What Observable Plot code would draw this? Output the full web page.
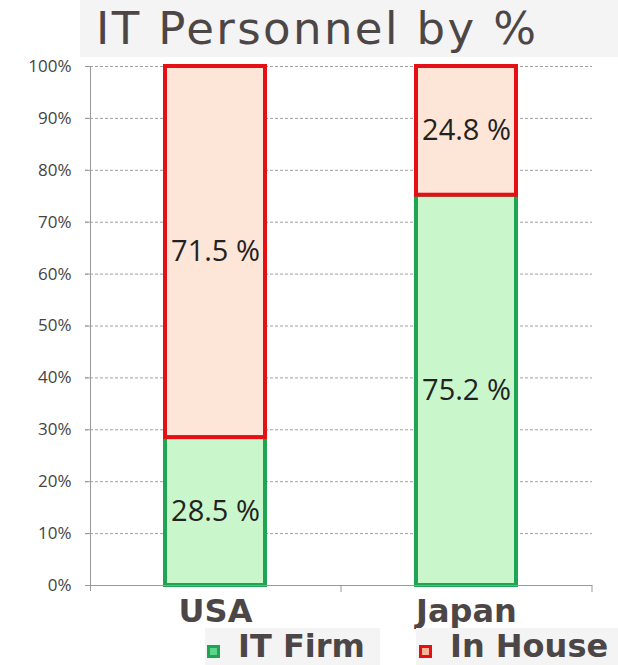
<!DOCTYPE html>
<html><head><meta charset="utf-8">
<script src="https://cdn.jsdelivr.net/npm/d3@7"></script>
<script src="https://cdn.jsdelivr.net/npm/@observablehq/plot@0.6"></script>
<style>
html,body{margin:0;padding:0;background:#fff;}
#wrap{position:relative;width:618px;height:665px;overflow:hidden;background:#fff;}
#title{position:absolute;left:80px;top:0;width:538px;height:57px;background:#f4f4f4;
  font-family:"DejaVu Sans";font-size:45px;letter-spacing:2.4px;color:#4d4646;line-height:57px;padding-left:16px;box-sizing:border-box;white-space:nowrap;}
#chart{position:absolute;left:0;top:36px;}
#legend{position:absolute;left:0;top:628px;width:618px;height:37px;font-family:"DejaVu Sans";font-weight:bold;font-size:32px;color:#4d4646;}
.item{position:absolute;top:0;height:37px;background:#f4f4f4;line-height:37px;white-space:nowrap;}
.sw{position:absolute;top:17px;width:7px;height:7px;border:3px solid;}
</style>
</head><body>
<div id="wrap">
  <div id="title"></div>
  <div id="chart"></div>
  <div id="legend"></div>
</div>
<script>
const title = "IT Personnel by %";
const categories = ["USA", "Japan"];
const series = ["IT Firm", "In House"];
const itFirm = [28.5, 75.2];
const inHouse = [71.5, 24.8];
const yTicks = [0, 10, 20, 30, 40, 50, 60, 70, 80, 90, 100];
const fillColors = {"IT Firm": "#c9f7cb", "In House": "#fde5d7"};
const strokeColors = {"IT Firm": "#1ea452", "In House": "#e50f16"};

const data = categories.flatMap((c, i) => [
  {country: c, type: series[0], value: itFirm[i]},
  {country: c, type: series[1], value: inHouse[i]}
]);

document.getElementById("title").textContent = title;

const chart = Plot.plot({
  width: 618,
  height: 629,
  marginTop: 30,
  marginBottom: 80,
  marginLeft: 90,
  marginRight: 26,
  style: {background: "transparent", fontFamily: "Open Sans"},
  x: {domain: categories, paddingInner: 0.6, paddingOuter: 0.3, label: null},
  y: {domain: [0, 100], label: null},
  marks: [
    Plot.ruleY(yTicks.slice(1), {y: d => d, stroke: "#a0a0a0", strokeDasharray: "3,2", insetLeft: -5}),
    Plot.axisY({ticks: yTicks, tickFormat: d => d + "%", tickSize: 5, tickPadding: 14, stroke: "#999", fontSize: 17, fill: "#444", strokeOpacity: 1}),
    Plot.frame({anchor: "left", stroke: "#999", insetBottom: -5}),
    Plot.barY(data, {x: "country", y: "value", fill: d => fillColors[d.type], stroke: d => strokeColors[d.type], strokeWidth: 4}),
    Plot.text(data, Plot.stackY({x: "country", y: "value", text: d => d.value.toFixed(1) + " %", fontSize: 29, fill: "#222", fontFamily: "Open Sans"})),
    Plot.ruleY([0], {stroke: "#999"}),
    Plot.ruleX(categories, {x: d => d, dx: 125.5, y1: 0, y2: 0, insetBottom: -7, stroke: "#999"}),
    Plot.axisX({tickSize: 0, tickPadding: 14, fontSize: 32, fontWeight: "bold", fontFamily: "DejaVu Sans", fill: "#4d4646"})
  ]
});
document.getElementById("chart").appendChild(chart);

const legendItems = [
  {label: series[0], left: 205, width: 175, swLeft: 2},
  {label: series[1], left: 416, width: 202, swLeft: 3}
];
const legend = document.getElementById("legend");
legendItems.forEach(it => {
  const d = document.createElement("div");
  d.className = "item";
  d.style.left = it.left + "px";
  d.style.width = it.width + "px";
  const sw = document.createElement("div");
  sw.className = "sw";
  sw.style.left = it.swLeft + "px";
  sw.style.borderColor = strokeColors[it.label];
  sw.style.background = it.label === "IT Firm" ? "#5cd58a" : "#f8b597";
  const t = document.createElement("span");
  t.textContent = it.label;
  t.style.position = "absolute";
  t.style.left = (it.label === "IT Firm" ? 33 : 34) + "px";
  d.appendChild(sw);
  d.appendChild(t);
  legend.appendChild(d);
});
</script>
</body></html>
